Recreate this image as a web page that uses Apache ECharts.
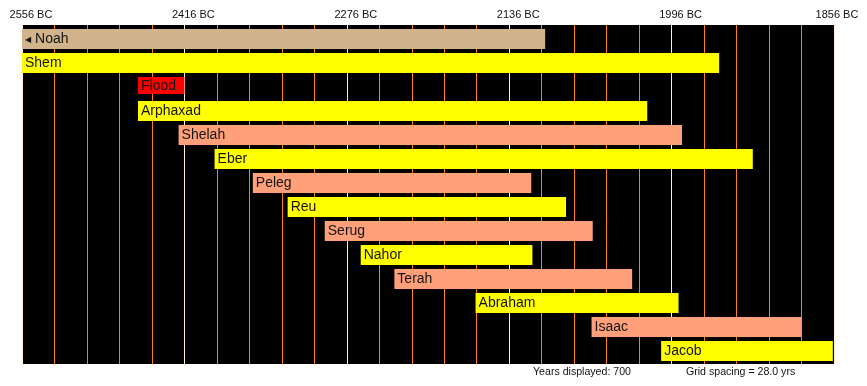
<!DOCTYPE html>
<html>
<head>
<meta charset="utf-8">
<script src="https://cdn.jsdelivr.net/npm/echarts@6/dist/echarts.min.js"></script>
<style>
html,body{margin:0;padding:0;background:#fff;}
#chart{width:867px;height:386px;}
</style>
</head>
<body>
<div id="chart"></div>
<script>
// ---- data ----
const START_BC = 2556;
const END_BC = 1856;
const GRID_STEP = 28;
const LABEL_STEP = 140;
const names = ['Noah','Shem','Flood','Arphaxad','Shelah','Eber','Peleg','Reu','Serug','Nahor','Terah','Abraham','Isaac','Jacob'];
const startBC = [3056, 2556, 2456, 2456, 2421, 2390, 2357, 2327, 2295, 2264, 2235, 2165, 2065, 2005];
const endBC   = [2105, 1955, 2416, 2017, 1987, 1926, 2117, 2087, 2064, 2116, 2030, 1990, 1884, 1857];
const kinds   = ['tan','yellow','red','yellow','salmon','yellow','salmon','yellow','salmon','yellow','salmon','yellow','salmon','yellow'];
const tickLabels = ['2556 BC','2416 BC','2276 BC','2136 BC','1996 BC','1856 BC'];
const yearsDisplayed = 700;
const gridSpacing = '28.0';

const palette = {tan:'#D2B48C', yellow:'#FFFF00', red:'#FF0000', salmon:'#FFA07A'};
const FONT = "'Liberation Sans', Arial, sans-serif";

const span = START_BC - END_BC;
const seriesData = names.map((n, i) => [i, START_BC - startBC[i], START_BC - endBC[i]]);

const chart = echarts.init(document.getElementById('chart'), null, {renderer:'canvas'});
chart.setOption({
  backgroundColor: '#ffffff',
  animation: false,
  grid: {left: 22, right: 33, top: 25, bottom: 22, backgroundColor: '#000000', show: true, borderWidth: 0},
  xAxis: [{
    type: 'value',
    position: 'top',
    min: 0,
    max: span,
    interval: GRID_STEP,
    axisLine: {show: false},
    axisTick: {show: false},
    axisLabel: {show: false},
    splitLine: {show: true, showMinLine: true, showMaxLine: true, lineStyle: {color: '#FF8000', width: 1}}
  }, {
    type: 'value',
    position: 'top',
    min: 0,
    max: span,
    interval: LABEL_STEP,
    axisLine: {show: false},
    axisTick: {show: false},
    splitLine: {show: true, showMinLine: true, showMaxLine: true, lineStyle: {color: '#FFEFD2', width: 1}},
    axisLabel: {
      show: true,
      margin: 5,
      color: '#111',
      fontFamily: FONT,
      fontSize: 11,
      formatter: function (v) {
        const idx = Math.round(v / LABEL_STEP);
        return idx === tickLabels.length - 1 ? '{b|' + tickLabels[idx] + '}' : '{a|' + tickLabels[idx] + '}';
      },
      rich: {
        a: {padding: [0, 0, 0, 18], fontSize: 11, fontFamily: FONT, color: '#111'},
        b: {padding: [0, 0, 0, 6], fontSize: 11, fontFamily: FONT, color: '#111'}
      }
    }
  }],
  yAxis: {
    type: 'value',
    inverse: true,
    min: -0.5833,
    max: 13.5417,
    show: false,
    splitLine: {show: false}
  },
  series: [{
    type: 'custom',
    clip: false,
    xAxisIndex: 0,
    encode: {x: [1, 2], y: 0},
    data: seriesData,
    z: 5,
    renderItem: function (params, api) {
      const i = api.value(0);
      const p0 = api.coord([api.value(1), i]);
      const p1 = api.coord([api.value(2), i]);
      const cs = params.coordSys;
      const clipped = p0[0] < cs.x - 0.5;
      const x0 = Math.max(p0[0], cs.x);
      const x1 = Math.min(p1[0], cs.x + cs.width + 2);
      const isEvent = kinds[i] === 'red';
      const h = isEvent ? 17 : 20;
      const top = p0[1] - 10;
      const label = clipped ? '{arr|\u25C0} ' + names[i] : names[i];
      return {
        type: 'group',
        children: [
          {type: 'rect', shape: {x: x0, y: top, width: x1 - x0, height: h}, style: {fill: palette[kinds[i]]}},
          {type: 'text', x: x0 + 3, y: top + h / 2 + 0.5, style: {
            text: label, fill: '#141414', fontSize: 14, fontFamily: FONT,
            align: 'left', verticalAlign: 'middle',
            rich: {arr: {fontSize: 8, fontFamily: "'DejaVu Sans', sans-serif", fill: '#141414'}}
          }}
        ]
      };
    }
  }],
  graphic: [
    {type: 'text', left: 533, top: 367, style: {text: 'Years displayed: ' + yearsDisplayed, fill: '#111', fontSize: 10.6, fontFamily: FONT}},
    {type: 'text', left: 686, top: 367, style: {text: 'Grid spacing = ' + gridSpacing + ' yrs', fill: '#111', fontSize: 10.6, fontFamily: FONT}}
  ]
});
</script>
</body>
</html>
